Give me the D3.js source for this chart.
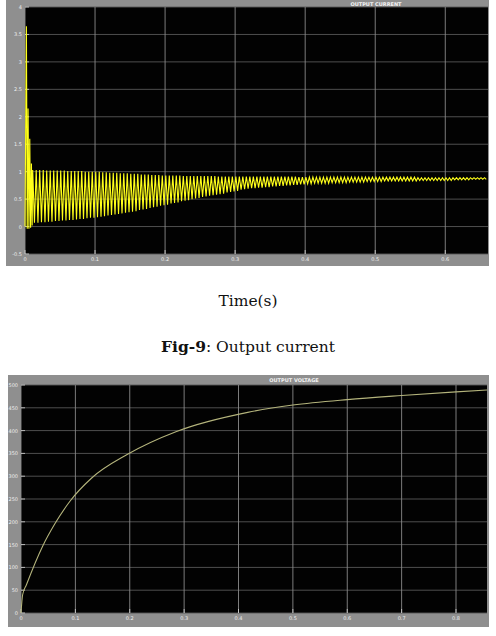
<!DOCTYPE html>
<html>
<head>
<meta charset="utf-8">
<script src="https://cdn.jsdelivr.net/npm/d3@7"></script>
<style>
  body { margin: 0; background: #fff; }
</style>
</head>
<body>
<div id="canvas"></div>
<script>
// ---- data ----
// output current: the start-up transient (time s, current)
let curStartT = [0, 0.0020, 0.0032, 0.0044, 0.0056, 0.0068, 0.0080, 0.0092, 0.0102];
let curStartV = [0, 3.65, -0.04, 2.15, -0.04, 1.6, -0.02, 1.15, 0.02];
// ripple after the transient: one peak and one trough per switching cycle
let rippleStart = 0.011;
let ripplePeriod = 0.005;
let curHigh = [
  1.03, 1.03, 1.03, 1.03, 1.02, 1.02, 1.02, 1.02, 1.02, 1.02,
  1.01, 1.01, 1.01, 1.01, 1.01, 1.00, 1.00, 1.00, 1.00, 1.00,
  0.99, 0.99, 0.98, 0.98, 0.98, 0.97, 0.97, 0.97, 0.96, 0.96,
  0.96, 0.95, 0.95, 0.95, 0.94, 0.94, 0.94, 0.93, 0.93, 0.93,
  0.93, 0.93, 0.93, 0.92, 0.92, 0.92, 0.92, 0.92, 0.92, 0.92,
  0.92, 0.92, 0.92, 0.91, 0.91, 0.91, 0.91, 0.91, 0.91, 0.91,
  0.91, 0.91, 0.91, 0.91, 0.91, 0.91, 0.91, 0.91, 0.91, 0.91,
  0.91, 0.91, 0.91, 0.91, 0.91, 0.91, 0.90, 0.90, 0.90, 0.90,
  0.90, 0.90, 0.90, 0.90, 0.90, 0.90, 0.90, 0.90, 0.90, 0.90,
  0.90, 0.90, 0.90, 0.90, 0.90, 0.90, 0.90, 0.90, 0.90, 0.90,
  0.90, 0.90, 0.90, 0.90, 0.90, 0.90, 0.90, 0.90, 0.90, 0.90,
  0.89, 0.89, 0.89, 0.89, 0.89, 0.89, 0.89, 0.89, 0.89, 0.89,
  0.89, 0.89, 0.89, 0.89, 0.89, 0.89, 0.89, 0.89, 0.89, 0.89
];
let curLow = [
  0.07, 0.07, 0.08, 0.08, 0.09, 0.09, 0.10, 0.10, 0.11, 0.11,
  0.12, 0.12, 0.13, 0.14, 0.14, 0.15, 0.16, 0.16, 0.17, 0.18,
  0.19, 0.20, 0.21, 0.22, 0.23, 0.24, 0.25, 0.26, 0.27, 0.28,
  0.30, 0.31, 0.32, 0.34, 0.35, 0.36, 0.38, 0.39, 0.40, 0.42,
  0.43, 0.44, 0.46, 0.47, 0.48, 0.50, 0.51, 0.52, 0.54, 0.55,
  0.56, 0.57, 0.58, 0.59, 0.60, 0.62, 0.63, 0.64, 0.65, 0.67,
  0.68, 0.69, 0.70, 0.70, 0.71, 0.71, 0.72, 0.72, 0.73, 0.73,
  0.74, 0.74, 0.75, 0.75, 0.76, 0.76, 0.77, 0.77, 0.78, 0.78,
  0.79, 0.79, 0.79, 0.79, 0.79, 0.80, 0.80, 0.80, 0.80, 0.80,
  0.81, 0.81, 0.81, 0.81, 0.81, 0.82, 0.82, 0.82, 0.82, 0.82,
  0.83, 0.83, 0.83, 0.83, 0.83, 0.83, 0.83, 0.83, 0.83, 0.83,
  0.84, 0.84, 0.84, 0.84, 0.84, 0.84, 0.84, 0.84, 0.84, 0.84,
  0.85, 0.85, 0.85, 0.85, 0.85, 0.86, 0.86, 0.86, 0.86, 0.86
];
let curXTicks = [0, 0.1, 0.2, 0.3, 0.4, 0.5, 0.6];
let curYTicks = [-0.5, 0, 0.5, 1, 1.5, 2, 2.5, 3, 3.5, 4];

// output voltage (time s, volts)
let voltT = [0, 0.003, 0.010, 0.040, 0.062, 0.090, 0.130, 0.196, 0.286, 0.417, 0.500, 0.600, 0.700, 0.800, 0.857];
let voltV = [0, 40, 62, 147, 195, 245, 296, 348, 398, 440, 456, 468, 477, 485, 489];
let voltXTicks = [0, 0.1, 0.2, 0.3, 0.4, 0.5, 0.6, 0.7, 0.8];
let voltYTicks = [0, 50, 100, 150, 200, 250, 300, 350, 400, 450, 500];

// ---- build the current series ----
let curPts = curStartT.map((t, i) => [t, curStartV[i]]);
for (let i = 0; i < curHigh.length; i++) {
    let t = rippleStart + i * ripplePeriod;
    curPts.push([t, curHigh[i]]);
    curPts.push([t + ripplePeriod / 2, curLow[i]]);
}
let voltPts = voltT.map((t, i) => [t, voltV[i]]);

let svg = d3.select("#canvas").append("svg")
    .attr("width", 496)
    .attr("height", 636);

// draws the gray scope frame, black plot, grid, tick labels and title
function scope(frame, x, y, xTicks, yTicks, title, titleX) {
    let g = svg.append("g");
    g.append("rect")
        .attr("x", frame[0]).attr("y", frame[1])
        .attr("width", frame[2] - frame[0]).attr("height", frame[3] - frame[1])
        .attr("fill", "#8f8f8f");
    let [x0, x1] = x.range();
    let [y0, y1] = y.range();
    g.append("rect")
        .attr("x", x0).attr("y", y1)
        .attr("width", x1 - x0).attr("height", y0 - y1)
        .attr("fill", "#020202");

    // horizontal grid
    g.selectAll(".hg").data(yTicks).enter().append("line")
        .attr("x1", x0).attr("x2", x1)
        .attr("y1", d => y(d)).attr("y2", d => y(d))
        .attr("stroke", "#585858").attr("stroke-width", 0.9);
    // vertical grid
    g.selectAll(".vg").data(xTicks).enter().append("line")
        .attr("x1", d => x(d)).attr("x2", d => x(d))
        .attr("y1", y1).attr("y2", y0)
        .attr("stroke", "#8a8a8a").attr("stroke-width", 0.9);

    // little tick marks on the axes
    g.selectAll(".yt").data(yTicks).enter().append("line")
        .attr("x1", x0).attr("x2", x0 + 4)
        .attr("y1", d => y(d)).attr("y2", d => y(d))
        .attr("stroke", "#d8d8d8").attr("stroke-width", 0.8);
    g.selectAll(".xt").data(xTicks).enter().append("line")
        .attr("x1", d => x(d)).attr("x2", d => x(d))
        .attr("y1", y0).attr("y2", y0 - 4)
        .attr("stroke", "#d8d8d8").attr("stroke-width", 0.8);

    g.selectAll(".yl").data(yTicks).enter().append("text")
        .attr("x", x0 - 3).attr("y", d => y(d) + 2)
        .attr("text-anchor", "end")
        .attr("font-family", "DejaVu Sans").attr("font-size", 5)
        .attr("fill", "#eeeeee")
        .text(d => d);
    g.selectAll(".xl").data(xTicks).enter().append("text")
        .attr("x", d => x(d)).attr("y", y0 + 7)
        .attr("text-anchor", "middle")
        .attr("font-family", "DejaVu Sans").attr("font-size", 5)
        .attr("fill", "#eeeeee")
        .text(d => d);

    g.append("text")
        .attr("x", titleX).attr("y", frame[1] + (y1 - frame[1]) / 2 + 2)
        .attr("text-anchor", "middle")
        .attr("font-family", "DejaVu Sans").attr("font-size", 5)
        .attr("font-weight", "bold")
        .attr("fill", "#f2f2f2")
        .text(title);
}

// ---- top scope: output current ----
let xCur = d3.scaleLinear().domain([0, 0.661]).range([25, 488]);
let yCur = d3.scaleLinear().domain([-0.5, 4]).range([254, 7]);
scope([6, 0, 489, 266], xCur, yCur, curXTicks, curYTicks, "OUTPUT CURRENT", 376);

svg.append("path")
    .datum(curPts)
    .attr("d", d3.line().x(d => xCur(d[0])).y(d => yCur(d[1])))
    .attr("fill", "none")
    .attr("stroke", "#ffff1a")
    .attr("stroke-width", 1.1);

// ---- captions ----
svg.append("text")
    .attr("x", 248).attr("y", 306)
    .attr("text-anchor", "middle")
    .attr("font-family", "DejaVu Serif").attr("font-size", 15.5)
    .attr("fill", "#111")
    .text("Time(s)");

let cap = svg.append("text")
    .attr("x", 248).attr("y", 352)
    .attr("text-anchor", "middle")
    .attr("font-family", "DejaVu Serif").attr("font-size", 15.5)
    .attr("fill", "#111");
cap.append("tspan").attr("font-weight", "bold").text("Fig-9");
cap.append("tspan").text(": Output current");

// ---- bottom scope: output voltage ----
let xVolt = d3.scaleLinear().domain([0, 0.857]).range([21, 487]);
let yVolt = d3.scaleLinear().domain([0, 500]).range([613, 385]);
scope([8, 375, 489, 627], xVolt, yVolt, voltXTicks, voltYTicks, "OUTPUT VOLTAGE", 294);

svg.append("path")
    .datum(voltPts)
    .attr("d", d3.line().curve(d3.curveMonotoneX).x(d => xVolt(d[0])).y(d => yVolt(d[1])))
    .attr("fill", "none")
    .attr("stroke", "#b4b47c")
    .attr("stroke-width", 1.1);
</script>
</body>
</html>
